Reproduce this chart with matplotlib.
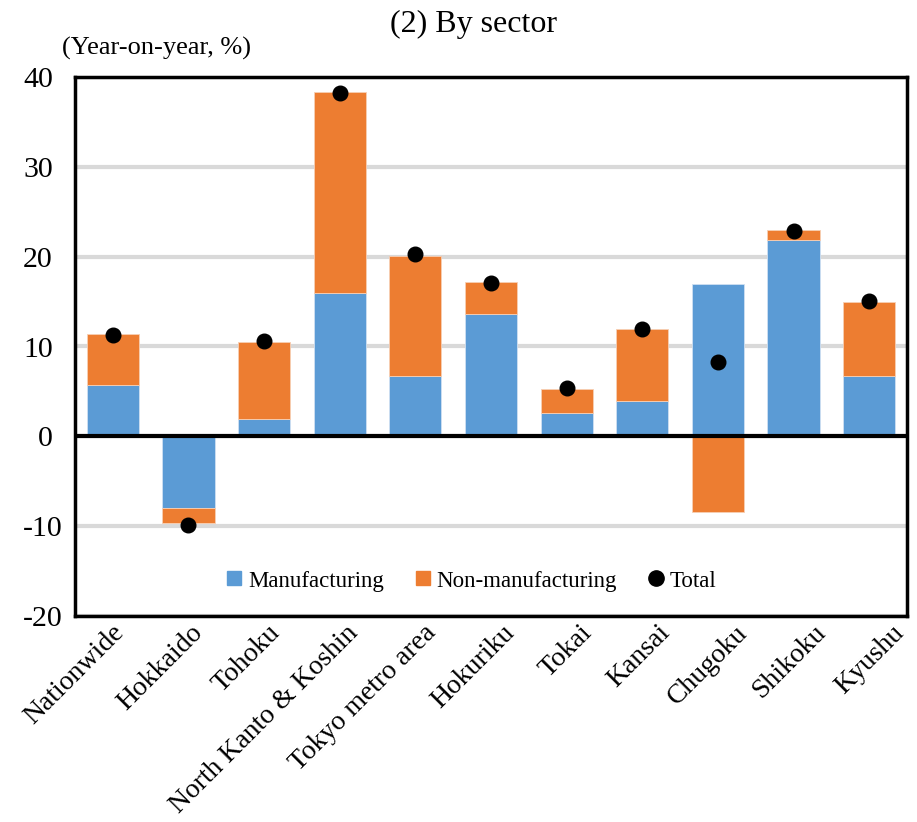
import matplotlib
matplotlib.use("Agg")
import matplotlib.pyplot as plt
import matplotlib.transforms as mtransforms
from matplotlib.lines import Line2D
import numpy as np

regions = ["Nationwide", "Hokkaido", "Tohoku", "North Kanto & Koshin",
           "Tokyo metro area", "Hokuriku", "Tokai", "Kansai", "Chugoku",
           "Shikoku", "Kyushu"]
manufacturing = [5.7, -8.0, 1.9, 16.0, 6.7, 13.6, 2.6, 3.9, 17.0, 21.9, 6.7]
non_manufacturing = [5.7, -1.7, 8.6, 22.3, 13.4, 3.6, 2.7, 8.1, -8.4, 1.1, 8.2]
total = [11.3, -9.9, 10.6, 38.2, 20.3, 17.1, 5.4, 11.9, 8.3, 22.9, 15.1]
y_ticks = [-20, -10, 0, 10, 20, 30, 40]

BLUE = "#5B9BD5"
ORANGE = "#ED7D31"

plt.rcParams["font.family"] = ["Liberation Serif", "DejaVu Serif"]

W, H = 917, 822
fig = plt.figure(figsize=(W / 100, H / 100), dpi=100)
ax = fig.add_axes([75 / W, 1 - 616 / H, (907 - 75) / W, (616 - 77) / H])

x = np.arange(len(regions))
manu = np.array(manufacturing)
non = np.array(non_manufacturing)

# Stack non-manufacturing on top of manufacturing when signs agree, else from zero
non_bottom = np.where(np.sign(non) == np.sign(manu), manu, 0.0)

width = 0.69
ax.bar(x, manu, width, color=BLUE, edgecolor="#cfe0f2", linewidth=0.6, zorder=2)
ax.bar(x, non, width, bottom=non_bottom, color=ORANGE, edgecolor="#f7cfb4",
       linewidth=0.6, zorder=2)
ax.plot(x, total, "o", color="black", markersize=10.5, zorder=4)

ax.set_xlim(-0.5, len(regions) - 0.5)
ax.set_ylim(-20, 40)
ax.set_yticks(y_ticks)
ax.set_yticklabels([str(t) for t in y_ticks], fontsize=21.5)
ax.yaxis.grid(True, color="#d9d9d9", linewidth=3, zorder=0)
ax.set_axisbelow(True)
ax.axhline(0, color="black", linewidth=3, zorder=3)
ax.tick_params(axis="y", length=0, pad=16)
ax.tick_params(axis="x", length=0, pad=3)

# negative tick labels sit a little further right
for val, lab in zip(y_ticks, ax.get_yticklabels()):
    if val < 0:
        lab.set_transform(lab.get_transform() +
                          mtransforms.ScaledTranslation(10 / 100, 0, fig.dpi_scale_trans))

ax.set_xticks(x)
ax.set_xticklabels(regions, rotation=45, ha="right", va="top",
                   rotation_mode="anchor", fontsize=20)
for i, lab in enumerate(ax.get_xticklabels()):
    dx = (-1 + 2.3 * i) / 100
    lab.set_transform(lab.get_transform() +
                      mtransforms.ScaledTranslation(dx, 0, fig.dpi_scale_trans))

for s in ax.spines.values():
    s.set_color("black")
    s.set_linewidth(2.5)
    s.set_zorder(5)

fig.text(474 / W, 1 - 24 / H, "(2) By sector", ha="center", va="center", fontsize=23)
fig.text(62 / W, 1 - 48 / H, "(Year-on-year, %)", ha="left", va="center", fontsize=19)

handles = [
    Line2D([], [], marker="s", linestyle="none", color=BLUE, markersize=10.5),
    Line2D([], [], marker="s", linestyle="none", color=ORANGE, markersize=10.5),
    Line2D([], [], marker="o", linestyle="none", color="black", markersize=11),
]
ax.legend(handles, ["Manufacturing", "Non-manufacturing", "Total"],
          loc="center", bbox_to_anchor=(0.4745, (616 - 581) / (616 - 77)),
          ncol=3, frameon=False, fontsize=16.5, handletextpad=0.1,
          columnspacing=1.2, handlelength=1.0)

fig.savefig("out.png", dpi=100, facecolor="white")
